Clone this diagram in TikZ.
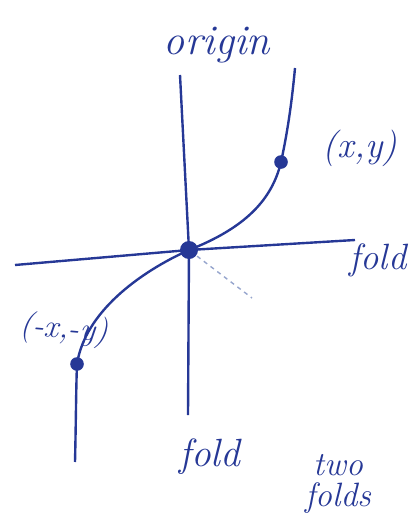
\documentclass[tikz,border=0pt]{standalone}
\usepackage{tikz}
\definecolor{ink}{RGB}{38,56,150}
\definecolor{faint}{RGB}{150,165,205}
\tikzset{
  inktext/.style={text=ink, font=\itshape},
  dot/.style={circle, fill=ink, inner sep=0pt, minimum size=#1},
}
\begin{document}
\begin{tikzpicture}[x=0.025cm, y=-0.025cm, line width=1.7pt, ink]
      \useasboundingbox (0,0) rectangle (415,519);
      \coordinate (Ytop) at (180,75);
      \coordinate (Ybot) at (188,415);
      \coordinate (Xleft) at (15,265);
      \coordinate (Xright) at (355,240);
      \coordinate (Cstart) at (75,462);
      \coordinate (Cend) at (295,68);
      \coordinate (Trace) at (252,298);
      \node[dot=0.45cm] (O) at (189,250) {};
      \node[dot=0.34cm] (P) at (281,162) {};
      \node[dot=0.34cm] (Q) at (77,364) {};
      \draw (Ytop) -- (O.center) -- (Ybot);
      \draw (Xleft) -- (O.center) -- (Xright);
      \draw (Cstart) .. controls (76,420) and (76,390) .. (Q.center)
            .. controls (85,312) and (140,272) .. (O.center)
            .. controls (245,228) and (272,200) .. (P.center)
            .. controls (288,130) and (292,100) .. (Cend);
      \draw[faint, line width=1pt, dashed] (O) -- (Trace);
      \node[inktext, font=\itshape\fontsize{30}{32}\selectfont] (origin) at (217,45) {origin};
      \node[inktext, font=\itshape\fontsize{26}{28}\selectfont] (Plabel) at (360,148) {(x,y)};
      \node[inktext, font=\itshape\fontsize{23}{24}\selectfont, rotate=-5] (Qlabel) at (64,330) {(-x,-y)};
      \node[inktext, font=\itshape\fontsize{26}{28}\selectfont] (foldR) at (378,260) {fold};
      \node[inktext, font=\itshape\fontsize{28}{30}\selectfont] (foldB) at (210,457) {fold};
      \node[inktext, font=\itshape\fontsize{24}{22}\selectfont, align=center] (two) at (338,484) {two\\folds};
    \end{tikzpicture}
\end{document}
